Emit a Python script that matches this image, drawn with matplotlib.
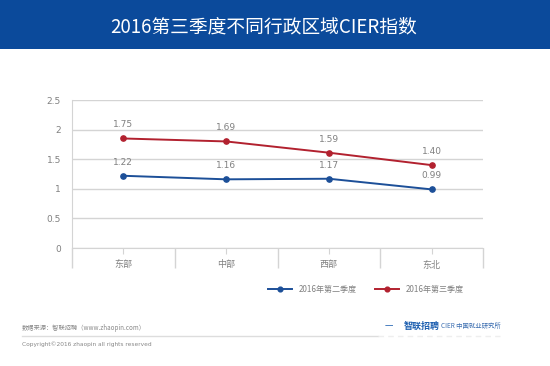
import matplotlib
matplotlib.use("Agg")
import matplotlib.pyplot as plt
from matplotlib.patches import Rectangle

plt.rcParams['font.family'] = ['Noto Sans CJK SC', 'DejaVu Sans']

title = "2016第三季度不同行政区域CIER指数"
categories = ["东部", "中部", "西部", "东北"]
series_names = ["2016年第二季度", "2016年第三季度"]
q2_values = [1.22, 1.16, 1.17, 0.99]
q2_labels = ["1.22", "1.16", "1.17", "0.99"]
q3_values = [1.85, 1.80, 1.61, 1.40]
q3_labels = ["1.75", "1.69", "1.59", "1.40"]
yticks = [0, 0.5, 1, 1.5, 2, 2.5]
ytick_labels = ["0", "0.5", "1", "1.5", "2", "2.5"]

W, H = 550, 366
fig = plt.figure(figsize=(W / 100, H / 100), dpi=100)
fig.patch.set_facecolor("white")

# title bar
fig.patches.append(Rectangle((0, 1 - 49 / H), 1, 49 / H, transform=fig.transFigure,
                             facecolor="#0b4a9b", edgecolor="none", zorder=0))
fig.text(263.5 / W, 1 - 27 / H, title, color="white", fontsize=13.5, ha="center", va="center",
         fontweight="light")

grid_c = "#d4d4d4"
text_c = "#808080"
blue = "#1c4f98"
red = "#b2212f"

ax = fig.add_axes([72 / W, (H - 248) / H, 411 / W, 148 / H])
x = list(range(len(categories)))
ax.plot(x, q2_values, color=blue, lw=1.4, marker="o", ms=3.8, label=series_names[0], zorder=3)
ax.plot(x, q3_values, color=red, lw=1.4, marker="o", ms=3.8, label=series_names[1], zorder=3)
for xi, v, s in zip(x, q2_values, q2_labels):
    ax.annotate(s, (xi, v), xytext=(0, 6.5), textcoords="offset points", ha="center",
                va="bottom", fontsize=6.5, color=text_c, family="DejaVu Sans")
for xi, v, s in zip(x, q3_values, q3_labels):
    ax.annotate(s, (xi, v), xytext=(0, 6.5), textcoords="offset points", ha="center",
                va="bottom", fontsize=6.5, color=text_c, family="DejaVu Sans")

ax.set_xlim(-0.5, len(categories) - 0.5)
ax.set_ylim(0, 2.5)
ax.set_yticks(yticks)
ax.set_yticklabels(ytick_labels, fontsize=6.5, color=text_c, family="DejaVu Sans")
ax.set_xticks(x)
ax.set_xticklabels(categories, fontsize=6.5, color=text_c)
ax.yaxis.grid(True, color=grid_c, lw=1)
ax.set_axisbelow(True)
ax.tick_params(axis="y", length=0, pad=8)
ax.tick_params(axis="x", length=4, color=grid_c, pad=5)
for s in ["top", "right"]:
    ax.spines[s].set_visible(False)
ax.spines["left"].set_color(grid_c)
ax.spines["bottom"].set_color(grid_c)
ax.vlines([i - 0.5 for i in range(len(categories) + 1)], -0.135, 0,
          transform=ax.get_xaxis_transform(), colors=grid_c, lw=1, clip_on=False)

leg = fig.legend(loc="center", bbox_to_anchor=(366 / W, 1 - 289 / H), ncol=2, frameon=False,
                 fontsize=5.8, handlelength=3.0, columnspacing=2.3, handletextpad=0.8,
                 markerscale=0.9)
for t in leg.get_texts():
    t.set_color(text_c)

# footer
fig.text(22 / W, 1 - 328 / H, "数据来源：智联招聘（www.zhaopin.com）", fontsize=4.5,
         color="#888888", va="center")
fig.lines.append(plt.Line2D([22 / W, 378 / W], [1 - 336 / H, 1 - 336 / H],
                            transform=fig.transFigure, color="#dddddd", lw=1))
fig.lines.append(plt.Line2D([378 / W, 500 / W], [1 - 336 / H, 1 - 336 / H],
                            transform=fig.transFigure, color="#eeeeee", lw=1, ls=(0, (4, 3))))
fig.text(22 / W, 1 - 344 / H, "Copyright©2016 zhaopin all rights reserved", fontsize=4.2,
         color="#888888", va="center", family="DejaVu Sans")
fig.text(385 / W, 1 - 327 / H, "一", fontsize=6, color="#1d5fb0", va="center")
fig.text(404 / W, 1 - 326 / H, "智联招聘", fontsize=6.5, color="#1d5fb0", va="center",
         fontweight="bold")
fig.text(441 / W, 1 - 326 / H, "CIER 中国就业研究所", fontsize=4.6, color="#3a6db0", va="center")

fig.savefig("out.png", dpi=100, facecolor="white")
